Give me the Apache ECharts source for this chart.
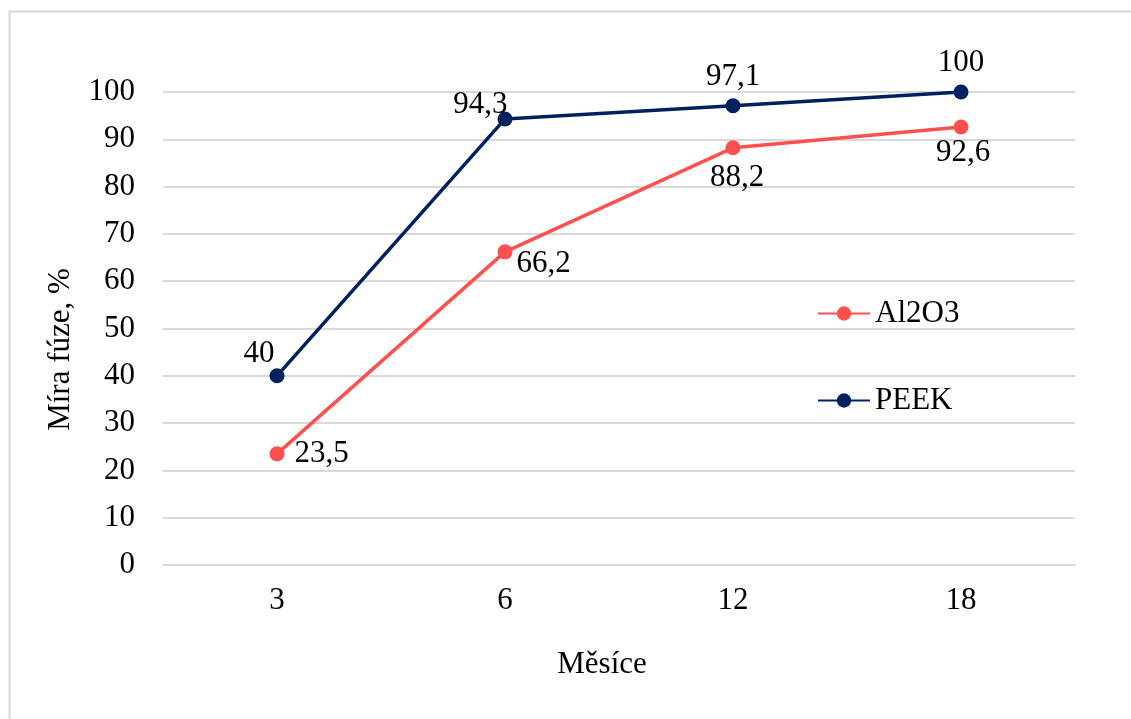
<!DOCTYPE html>
<html>
<head>
<meta charset="utf-8">
<script src="https://cdn.jsdelivr.net/npm/echarts@6/dist/echarts.min.js"></script>
<style>
html,body{margin:0;padding:0;background:#fff;}
#chart{width:1131px;height:719px;}
</style>
</head>
<body>
<div id="chart"></div>
<script>
// Fusion rate by months after surgery
const months = ['3', '6', '12', '18'];
const al2o3 = [23.5, 66.2, 88.2, 92.6];
const peek = [40, 94.3, 97.1, 100];

const FONT = '"Liberation Serif", "Times New Roman", serif';
const FS = 31;
const RED = '#FF5050';
const NAVY = '#002060';

const fmt = v => String(v).replace('.', ',');

// Per-point label placement
const al2o3Labels = [
  { position: 'right', distance: 10, offset: [0, 0] },
  { position: 'right', distance: 4, offset: [0, 12] },
  { position: 'bottom', distance: 5, offset: [4, 2] },
  { position: 'bottom', distance: 5, offset: [2, -2] }
];
const peekLabels = [
  { position: 'top', distance: 4, offset: [-18, 5] },
  { position: 'left', distance: 2, offset: [12, -14] },
  { position: 'top', distance: 4, offset: [0, -2] },
  { position: 'top', distance: 4, offset: [0, -2] }
];

function seriesData(values, labels) {
  return values.map((v, i) => ({ value: v, label: labels[i] }));
}

function lineSeries(name, values, labels, color) {
  return {
    name,
    type: 'line',
    data: seriesData(values, labels),
    symbol: 'circle',
    symbolSize: 15,
    lineStyle: { color, width: 3.5 },
    itemStyle: { color },
    label: {
      show: true,
      fontFamily: FONT,
      fontSize: FS,
      color: '#000',
      formatter: p => fmt(p.value)
    }
  };
}

const chart = echarts.init(document.getElementById('chart'), null, { renderer: 'canvas' });
chart.setOption({
  backgroundColor: '#fff',
  animation: false,
  textStyle: { fontFamily: FONT },
  graphic: [{
    type: 'rect',
    shape: { x: 9.5, y: 11.5, width: 1200, height: 800 },
    style: { fill: 'none', stroke: '#d9d9d9', lineWidth: 2 },
    silent: true
  }],
  grid: { left: 163, right: 56, top: 92, bottom: 154 },
  legend: {
    orient: 'vertical',
    left: 812,
    top: 293,
    itemGap: 56,
    itemWidth: 52,
    itemHeight: 18,
    textStyle: { fontFamily: FONT, fontSize: FS, color: '#000' },
    data: ['Al2O3', 'PEEK']
  },
  xAxis: {
    type: 'category',
    data: months,
    boundaryGap: true,
    axisLine: { show: true, lineStyle: { color: '#d9d9d9', width: 2 } },
    axisTick: { show: false },
    axisLabel: { fontFamily: FONT, fontSize: FS, color: '#000', margin: 20 },
    name: 'Měsíce',
    nameLocation: 'middle',
    nameGap: 84,
    nameTextStyle: { fontFamily: FONT, fontSize: FS, color: '#000', padding: [0, 34, 0, 0] }
  },
  yAxis: {
    type: 'value',
    min: 0,
    max: 100,
    interval: 10,
    axisLine: { show: false },
    axisTick: { show: false },
    splitLine: { lineStyle: { color: '#d9d9d9', width: 2 } },
    axisLabel: { fontFamily: FONT, fontSize: FS, color: '#000', margin: 28 },
    name: 'Míra fúze, %',
    nameLocation: 'middle',
    nameGap: 87,
    nameTextStyle: { fontFamily: FONT, fontSize: FS, color: '#000', padding: [0, 42, 0, 0] }
  },
  series: [
    lineSeries('Al2O3', al2o3, al2o3Labels, RED),
    lineSeries('PEEK', peek, peekLabels, NAVY)
  ]
});
</script>
</body>
</html>
